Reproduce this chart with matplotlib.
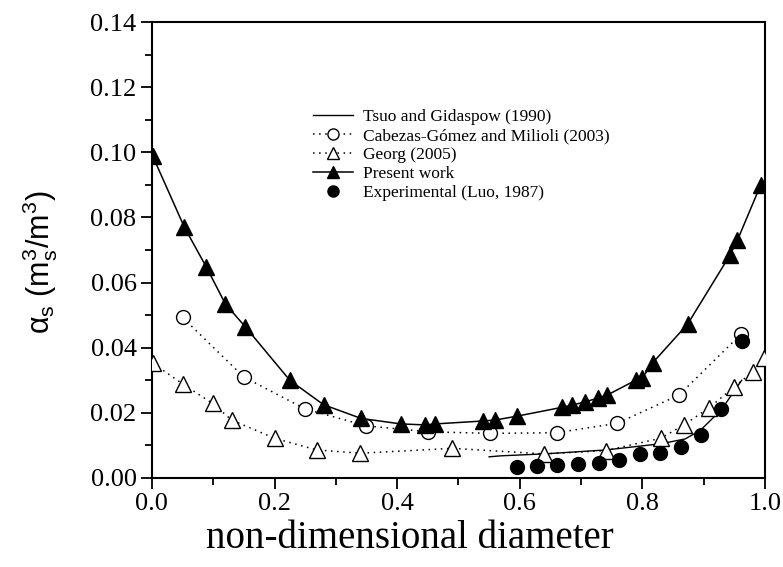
import matplotlib
matplotlib.use("Agg")
import matplotlib.pyplot as plt
from matplotlib.ticker import MultipleLocator, FormatStrFormatter

# Present work (filled triangles, solid line)
present_x = [0.001, 0.053, 0.089, 0.120, 0.152, 0.225, 0.280, 0.341, 0.406, 0.446, 0.462,
             0.540, 0.560, 0.596, 0.669, 0.686, 0.707, 0.727, 0.743, 0.789, 0.800, 0.817,
             0.874, 0.943, 0.955, 0.993]
present_y = [0.099, 0.077, 0.0647, 0.0534, 0.0465, 0.0300, 0.0225, 0.0183, 0.0166, 0.0163, 0.0166,
             0.0175, 0.0178, 0.0190, 0.0217, 0.0224, 0.0234, 0.0245, 0.0255, 0.0300, 0.0308, 0.0354,
             0.0473, 0.0685, 0.0730, 0.0900]

# Cabezas-Gómez and Milioli (2003) (open circles, dotted)
cab_x = [0.050, 0.150, 0.250, 0.350, 0.450, 0.551, 0.660, 0.759, 0.860, 0.961]
cab_y = [0.0493, 0.0310, 0.0212, 0.0160, 0.0142, 0.0137, 0.0139, 0.0168, 0.0255, 0.0442]

# Georg (2005) (open triangles, dotted)
georg_x = [0.002, 0.050, 0.099, 0.130, 0.200, 0.269, 0.340, 0.490, 0.639, 0.740, 0.830,
           0.868, 0.909, 0.950, 0.980, 0.999]
georg_y = [0.0352, 0.0289, 0.0229, 0.0178, 0.0122, 0.0086, 0.0076, 0.0091, 0.0074, 0.0084, 0.0122,
           0.0163, 0.0216, 0.0280, 0.0326, 0.0367]

# Tsuo and Gidaspow (1990) (solid line only)
tsuo_x = [0.550, 0.569, 0.640, 0.740, 0.830, 0.870, 0.895, 0.929, 0.962]
tsuo_y = [0.0065, 0.0068, 0.0074, 0.0086, 0.0105, 0.0120, 0.0147, 0.0210, 0.0300]

# Experimental (Luo, 1987) (filled circles)
exp_x = [0.596, 0.628, 0.661, 0.695, 0.729, 0.762, 0.796, 0.829, 0.863, 0.895, 0.929, 0.962]
exp_y = [0.0033, 0.0037, 0.0040, 0.0043, 0.0047, 0.0055, 0.0073, 0.0076, 0.0096, 0.0132, 0.0211, 0.0422]

x_label = "non-dimensional diameter"

plt.rcParams['font.family'] = ['Liberation Serif', 'DejaVu Serif']
plt.rcParams['mathtext.fontset'] = 'custom'
plt.rcParams['mathtext.rm'] = 'Liberation Sans'
plt.rcParams['mathtext.it'] = 'Liberation Sans'

fig = plt.figure(figsize=(7.83, 5.67), dpi=100)
ax = fig.add_axes([0.194, 0.157, 0.783, 0.804])

dot = (0, (1, 3))
ax.plot(tsuo_x, tsuo_y, '-', color='black', lw=1.0, label='Tsuo and Gidaspow (1990)', zorder=2)
ax.plot(cab_x, cab_y, linestyle=dot, color='black', lw=1.1, marker='o', ms=10,
        mfc='white', mec='black', mew=1.0, label='Cabezas-Gómez and Milioli (2003)', zorder=3)
ax.plot(georg_x, georg_y, linestyle=dot, color='black', lw=1.1, marker='^', ms=11,
        mfc='white', mec='black', mew=1.0, label='Georg (2005)', zorder=3)
ax.plot(present_x, present_y, '-', color='black', lw=1.1, marker='^', ms=11,
        mfc='black', mec='black', label='Present work', zorder=4)
ax.plot(exp_x, exp_y, linestyle='none', marker='o', ms=10, mfc='black', mec='black',
        label='Experimental (Luo, 1987)', zorder=5)

ax.set_xlim(0, 1.0)
ax.set_ylim(0, 0.14)
ax.xaxis.set_major_locator(MultipleLocator(0.2))
ax.xaxis.set_minor_locator(MultipleLocator(0.1))
ax.yaxis.set_major_locator(MultipleLocator(0.02))
ax.yaxis.set_minor_locator(MultipleLocator(0.01))
ax.xaxis.set_major_formatter(FormatStrFormatter('%.1f'))
ax.yaxis.set_major_formatter(FormatStrFormatter('%.2f'))
ax.tick_params(which='major', direction='out', length=8, width=1.3, labelsize=19, pad=3)
ax.tick_params(which='minor', direction='out', length=5, width=1.3)
for s in ax.spines.values():
    s.set_linewidth(1.5)

ax.set_xlabel(x_label, fontsize=28)
ax.xaxis.set_label_coords(0.42, -0.092)
ax.set_ylabel(r'$\alpha_{\mathrm{s}}\ (\mathrm{m}_{\mathrm{s}}^{3}/\mathrm{m}^{3})$', fontsize=22,
              family='Liberation Sans')
ax.yaxis.set_label_coords(-0.15, 0.474)

leg = ax.legend(loc='upper left', bbox_to_anchor=(0.263, 0.81), frameon=False, fontsize=12.5,
                handlelength=2.3, handletextpad=0.55, labelspacing=0.17, borderaxespad=0,
                borderpad=0)
for h in leg.legend_handles:
    try:
        h.set_markersize(8)
    except Exception:
        pass

fig.savefig('out.png', dpi=100)
